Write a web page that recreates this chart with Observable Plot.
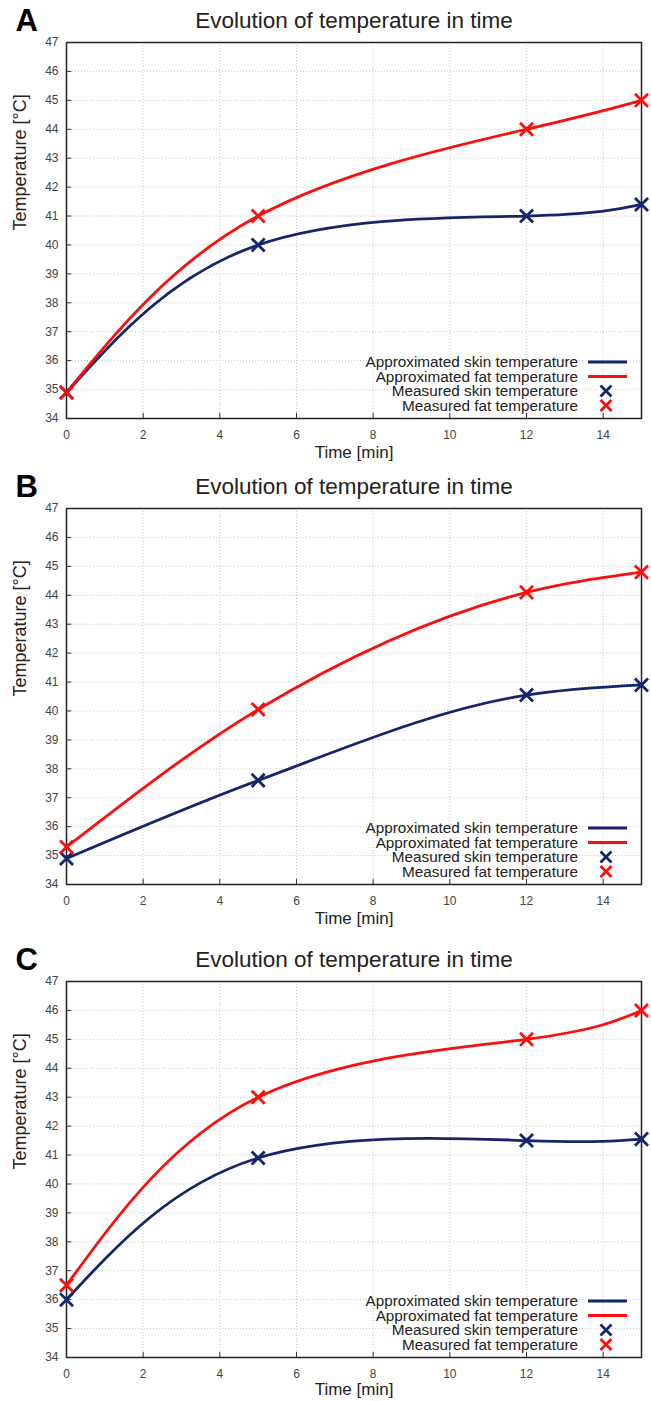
<!DOCTYPE html>
<html>
<head>
<meta charset="utf-8">
<script src="https://cdn.jsdelivr.net/npm/d3@7"></script>
<script src="https://cdn.jsdelivr.net/npm/@observablehq/plot@0.6"></script>
<style>
  html, body { margin: 0; padding: 0; background: #fff; overflow: hidden; }
  #root { position: relative; width: 651px; height: 1401px; }
  .panel { position: absolute; left: 0; }
  svg { font-family: "Liberation Sans", Arial, sans-serif; }
</style>
</head>
<body>
<div id="root"></div>
<script>
// ---- Data ----
const times = [0, 5, 12, 15];
const skinA = [34.9, 40.0, 41.0, 41.4];
const fatA  = [34.9, 41.0, 44.0, 45.0];
const skinB = [34.9, 37.6, 40.55, 40.9];
const fatB  = [35.3, 40.05, 44.1, 44.8];
const skinC = [36.0, 40.9, 41.5, 41.55];
const fatC  = [36.5, 43.0, 45.0, 46.0];
const panelLetters = ["A", "B", "C"];
const xTicks = [0, 2, 4, 6, 8, 10, 12, 14];
const yTicks = [34, 35, 36, 37, 38, 39, 40, 41, 42, 43, 44, 45, 46, 47];
const titleText = "Evolution of temperature in time";
const xLabel = "Time [min]";
const yLabel = "Temperature [°C]";
const legendLabels = ["Approximated skin temperature", "Approximated fat temperature", "Measured skin temperature", "Measured fat temperature"];

const NAVY = "#13266b";
const RED = "#ff0d0d";

function legendMark(index, scales, values, dim) {
  const g = d3.create("svg:g");
  const right = dim.width - dim.marginRight;
  const bottom = dim.height - dim.marginBottom;
  const rows = [
    {label: legendLabels[0], kind: "line", color: NAVY, dy: -56},
    {label: legendLabels[1], kind: "line", color: RED, dy: -41.5},
    {label: legendLabels[2], kind: "x", color: NAVY, dy: -27},
    {label: legendLabels[3], kind: "x", color: RED, dy: -12.5}
  ];
  for (const r of rows) {
    const y = bottom + r.dy;
    g.append("text")
      .attr("x", right - 63).attr("y", y).attr("dy", "0.35em")
      .attr("text-anchor", "end").attr("font-size", 15.3).attr("fill", "#222")
      .text(r.label);
    if (r.kind === "line") {
      g.append("line").attr("x1", right - 53).attr("x2", right - 14)
        .attr("y1", y).attr("y2", y).attr("stroke", r.color).attr("stroke-width", 2.8);
    } else {
      const cx = right - 35, s = 5.5;
      g.append("path").attr("d", `M${cx - s},${y - s}L${cx + s},${y + s}M${cx - s},${y + s}L${cx + s},${y - s}`)
        .attr("stroke", r.color).attr("stroke-width", 2.8).attr("fill", "none");
    }
  }
  return g.node();
}

function makePanel(letter, skin, fat, curve, top, marginBottom, labelDy) {
  const rows = times.map((t, i) => ({t, skin: skin[i], fat: fat[i]}));
  const chart = Plot.plot({
    width: 651,
    height: 42 + 376 + marginBottom,
    marginLeft: 66, marginRight: 10, marginTop: 42, marginBottom,
    x: {domain: [0, 15]},
    y: {domain: [34, 47]},
    marks: [
      Plot.gridX(xTicks, {stroke: "#c8c8c8", strokeOpacity: 1, strokeDasharray: "1,2"}),
      Plot.gridY(yTicks, {stroke: "#c8c8c8", strokeOpacity: 1, strokeDasharray: "1,2"}),
      Plot.axisX(xTicks, {tickSize: 0, tickPadding: 12, fontSize: 12, fill: "#444", label: null}),
      Plot.axisY(yTicks, {tickSize: 0, tickPadding: 8, fontSize: 12, fill: "#444", label: null}),
      Plot.ruleX(xTicks, {x: d => d, y1: 34, y2: 34.18, stroke: "#333"}),
      Plot.ruleY(yTicks, {y: d => d, x1: 0, x2: 0.14, stroke: "#333"}),
      Plot.frame({stroke: "#222", strokeWidth: 1.5}),
      Plot.line(rows, {x: "t", y: "skin", curve, stroke: NAVY, strokeWidth: 2.8}),
      Plot.line(rows, {x: "t", y: "fat", curve, stroke: RED, strokeWidth: 2.8}),
      Plot.dot(rows, {x: "t", y: "skin", symbol: "times", r: 6, stroke: NAVY, strokeWidth: 2.8}),
      Plot.dot(rows, {x: "t", y: "fat", symbol: "times", r: 6, stroke: RED, strokeWidth: 2.8}),
      Plot.text([titleText], {text: d => d, frameAnchor: "top", lineAnchor: "middle", dy: -22, fontSize: 22.5, fill: "#222"}),
      Plot.text([letter], {text: d => d, frameAnchor: "top-left", textAnchor: "start", lineAnchor: "middle", dx: -51, dy: -21, fontSize: 31, fontWeight: "bold", fill: "#000"}),
      Plot.text([xLabel], {text: d => d, frameAnchor: "bottom", lineAnchor: "middle", dy: labelDy, fontSize: 17, fill: "#222"}),
      Plot.text([yLabel], {text: d => d, frameAnchor: "left", dx: -46, rotate: -90, fontSize: 18, fill: "#222"}),
      legendMark
    ]
  });
  const div = document.createElement("div");
  div.className = "panel";
  div.style.top = top + "px";
  div.appendChild(chart);
  document.getElementById("root").appendChild(div);
}

makePanel(panelLetters[0], skinA, fatA, "natural", 0, 48, 34);
makePanel(panelLetters[1], skinB, fatB, "monotone-x", 466, 48, 34);
makePanel(panelLetters[2], skinC, fatC, "natural", 939, 44, 32);
</script>
</body>
</html>
